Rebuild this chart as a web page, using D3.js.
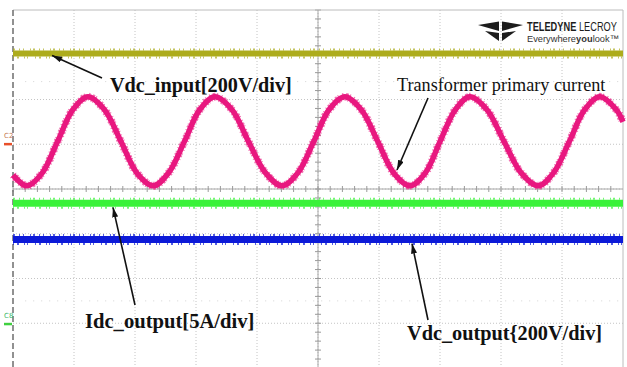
<!DOCTYPE html>
<html>
<head>
<meta charset="utf-8">
<script src="https://cdn.jsdelivr.net/npm/d3@7"></script>
<style>
  body { margin: 0; background: #fff; }
  svg { display: block; }
  .grid line { stroke: #c4c4c4; stroke-width: 1; stroke-dasharray: 1,2; }
  .note { font-family: "Liberation Serif", "Times New Roman", serif; fill: #111; }
</style>
</head>
<body>
<svg id="scope" width="627" height="367"></svg>
<script>
// time axis in divisions (0..10), amplitude in divisions (-4..4, 0 = centre line)
var tDiv = [0, 0.23, 0.48, 0.73, 0.98, 1.23, 1.50, 1.77, 2.03, 2.30, 2.55, 2.81, 3.06, 3.31,
            3.59, 3.86, 4.14, 4.41, 4.67, 4.93, 5.18, 5.44, 5.71, 5.98, 6.24, 6.51, 6.76, 7.00,
            7.25, 7.49, 7.77, 8.05, 8.33, 8.61, 8.86, 9.12, 9.37, 9.62, 9.89, 10];
var primaryCurrent = [0.31, 0.07, 0.36, 1.06, 1.77, 2.06, 1.77, 1.06, 0.36, 0.07, 0.36, 1.06, 1.77, 2.06,
                      1.77, 1.06, 0.36, 0.07, 0.36, 1.06, 1.77, 2.06, 1.77, 1.06, 0.36, 0.07, 0.36, 1.06,
                      1.77, 2.06, 1.77, 1.06, 0.36, 0.07, 0.36, 1.06, 1.77, 2.06, 1.77, 1.50];

var flatT = [0, 10];
var vdcInput = [3.03, 3.03];
var idcOutput = [-0.32, -0.32];
var vdcOutput = [-1.13, -1.13];

var vDivs = d3.range(0, 11);
var hDivs = d3.range(-4, 5);

var svg = d3.select("#scope");

var x = d3.scaleLinear().domain([0, 10]).range([13, 623]);
var y = d3.scaleLinear().domain([-4, 4]).range([368, 10]);

svg.append("rect").attr("width", 627).attr("height", 367).attr("fill", "#fff");

// grid
var grid = svg.append("g").attr("class", "grid");
grid.selectAll(".vg").data(vDivs.slice(1, 10)).enter().append("line")
  .attr("x1", function(d) { return x(d); }).attr("x2", function(d) { return x(d); })
  .attr("y1", y(4)).attr("y2", y(-4));
grid.selectAll(".hg").data(hDivs.slice(1, 8)).enter().append("line")
  .attr("x1", x(0)).attr("x2", x(10))
  .attr("y1", function(d) { return y(d); }).attr("y2", function(d) { return y(d); });

// faint dot rows
[2.4, -2.5].forEach(function(v) {
  svg.append("line").attr("x1", x(0.2)).attr("x2", x(10)).attr("y1", y(v)).attr("y2", y(v))
    .attr("stroke", "#d4d4d4").attr("stroke-width", 1).attr("stroke-dasharray", "1,7");
});

// centre axes with minor ticks
svg.append("line").attr("x1", x(0)).attr("x2", x(10)).attr("y1", y(0)).attr("y2", y(0))
  .attr("stroke", "#a8a8a8").attr("stroke-width", 1);
svg.append("line").attr("x1", x(5)).attr("x2", x(5)).attr("y1", y(4)).attr("y2", y(-4))
  .attr("stroke", "#a8a8a8").attr("stroke-width", 1);
svg.selectAll(".mx").data(d3.range(0, 50)).enter().append("line")
  .attr("x1", function(d) { return x(d / 5); }).attr("x2", function(d) { return x(d / 5); })
  .attr("y1", y(0) - 3).attr("y2", y(0) + 3)
  .attr("stroke", "#9a9a9a").attr("stroke-width", 1);
svg.selectAll(".my").data(d3.range(-20, 21)).enter().append("line")
  .attr("x1", x(5) - 3).attr("x2", x(5) + 3)
  .attr("y1", function(d) { return y(d / 5); }).attr("y2", function(d) { return y(d / 5); })
  .attr("stroke", "#9a9a9a").attr("stroke-width", 1);

// frame
svg.append("line").attr("x1", x(0)).attr("x2", x(10)).attr("y1", y(4)).attr("y2", y(4))
  .attr("stroke", "#bcbcbc");
svg.append("line").attr("x1", x(10)).attr("x2", x(10)).attr("y1", y(4)).attr("y2", y(-4))
  .attr("stroke", "#bcbcbc");
svg.append("line").attr("x1", x(0)).attr("x2", x(0)).attr("y1", y(4)).attr("y2", y(-4))
  .attr("stroke", "#6e6e6e").attr("stroke-width", 1.5).attr("stroke-dasharray", "6,3");

// traces
var line = d3.line()
  .x(function(d) { return x(d[0]); })
  .y(function(d) { return y(d[1]); });

function flat(vals) {
  return flatT.map(function(t, i) { return [t, vals[i]]; });
}

// a flat trace: solid band plus ragged edges so it looks like a sampled noisy signal
function flatTrace(vals, colour, w) {
  var g = svg.append("g");
  g.append("path").datum(flat(vals)).attr("d", line)
    .attr("fill", "none").attr("stroke", colour).attr("stroke-width", w);
  [-1, 1].forEach(function(s, k) {
    g.append("path").datum(flat(vals)).attr("d", line)
      .attr("transform", "translate(0," + (s * (w / 2 + 1)) + ")")
      .attr("fill", "none").attr("stroke", colour).attr("stroke-width", 2)
      .attr("stroke-opacity", 0.7)
      .attr("stroke-dasharray", k ? "1,3,2,5,1,2,1,7" : "2,4,1,3,1,6,1,2");
  });
}

flatTrace(vdcInput, "#adac1c", 6);
flatTrace(idcOutput, "#3af23a", 7);
flatTrace(vdcOutput, "#0c1ad8", 7);

var wave = d3.line()
  .curve(d3.curveCatmullRom.alpha(0.5))
  .x(function(d) { return x(d[0]); })
  .y(function(d) { return y(d[1]); });

var waveData = tDiv.map(function(t, i) { return [t, primaryCurrent[i]]; });
svg.append("path").datum(waveData)
  .attr("d", wave)
  .attr("fill", "none").attr("stroke", "#e8177f").attr("stroke-width", 8)
  .attr("stroke-opacity", 0.6).attr("stroke-dasharray", "1,2,2,1,1,3");
svg.append("path").datum(waveData)
  .attr("d", wave)
  .attr("fill", "none").attr("stroke", "#e8177f").attr("stroke-width", 5.5)
  .attr("stroke-linejoin", "round");

// channel markers on the left
svg.append("text").attr("x", 4).attr("y", y(1.15)).text("C2")
  .attr("font-family", "DejaVu Sans").attr("font-size", 7).attr("fill", "#c77a55");
svg.append("rect").attr("x", 4).attr("y", y(1.03)).attr("width", 8).attr("height", 2.5)
  .attr("fill", "#e8502a");
svg.append("text").attr("x", 4).attr("y", y(-2.88)).text("C8")
  .attr("font-family", "DejaVu Sans").attr("font-size", 7).attr("fill", "#3cb86a");
svg.append("rect").attr("x", 4).attr("y", y(-2.99)).attr("width", 8).attr("height", 2.5)
  .attr("fill", "#40d040");

// arrows
var defs = svg.append("defs");
defs.append("marker").attr("id", "ah")
  .attr("viewBox", "0 0 10 6").attr("refX", 10).attr("refY", 3)
  .attr("markerWidth", 10).attr("markerHeight", 6).attr("markerUnits", "userSpaceOnUse")
  .attr("orient", "auto")
  .append("path").attr("d", "M0,0 L10,3 L0,6 Z").attr("fill", "#111");

function arrow(x1, y1, x2, y2) {
  svg.append("line").attr("x1", x1).attr("y1", y1).attr("x2", x2).attr("y2", y2)
    .attr("stroke", "#111").attr("stroke-width", 1.6).attr("marker-end", "url(#ah)");
}
arrow(102, 78, x(0.64), y(vdcInput[0]) + 2);
arrow(428, 98, 397, 170);
arrow(135, 305, 113, y(idcOutput[0]) + 4);
arrow(428, 320, 412, y(vdcOutput[0]) + 4);

// labels
svg.append("text").attr("class", "note").attr("x", 110).attr("y", 92)
  .attr("font-size", 20.2).attr("font-weight", "bold").text("Vdc_input[200V/div]");
svg.append("text").attr("class", "note").attr("x", 397).attr("y", 91)
  .attr("font-size", 18.2).text("Transformer primary current");
svg.append("text").attr("class", "note").attr("x", 85).attr("y", 328)
  .attr("font-size", 20.6).attr("font-weight", "bold").text("Idc_output[5A/div]");
svg.append("text").attr("class", "note").attr("x", 407).attr("y", 340)
  .attr("font-size", 20.3).attr("font-weight", "bold").text("Vdc_output{200V/div]");

// logo
var logo = svg.append("g").attr("fill", "#1c1c1c");
logo.append("path").attr("d", "M478,25 L499,21.5 L499,31 Z");
logo.append("path").attr("d", "M523,25 L502,21.5 L502,31 Z");
logo.append("path").attr("d", "M485,31 L499,33 L499,41 Z");
logo.append("path").attr("d", "M516,31 L502,33 L502,41 Z");

// lay out text pieces side by side, squeezed together into a given width
function fitPieces(pieces, x0, y0, w, size, colour) {
  var nodes = pieces.map(function(p) {
    return svg.append("text").attr("x", 0).attr("y", y0)
      .attr("font-family", "Liberation Sans").attr("font-size", size)
      .attr("font-weight", p[1]).attr("fill", colour).text(p[0]);
  });
  var widths = nodes.map(function(n) { return n.node().getComputedTextLength(); });
  var s = w / d3.sum(widths);
  var cx = x0;
  nodes.forEach(function(n, i) {
    n.attr("transform", "translate(" + cx + ",0) scale(" + s + ",1)");
    cx += widths[i] * s;
  });
}
fitPieces([["TELEDYNE\u00a0", "bold"], ["LECROY", "normal"]], 527, 31, 90, 12, "#1c1c1c");
fitPieces([["Everywhere", "normal"], ["you", "bold"], ["look\u2122", "normal"]], 527, 42.5, 92, 9.5, "#333");
</script>
</body>
</html>
